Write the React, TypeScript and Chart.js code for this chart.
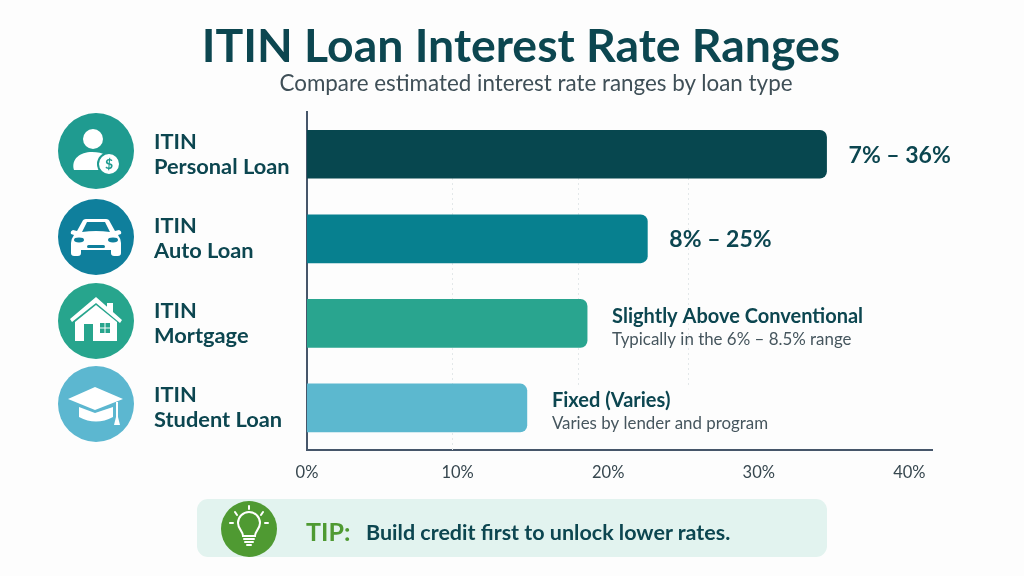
import React, { useEffect, useRef } from "react";
import { Chart, registerables } from "chart.js";

Chart.register(...registerables);

const FONT = 'Lato, "Noto Sans", sans-serif';
const INK = "#0c4650";
const TITLE = "ITIN Loan Interest Rate Ranges";
const SUBTITLE = "Compare estimated interest rate ranges by loan type";
const categories = [
  ["ITIN", "Personal Loan"],
  ["ITIN", "Auto Loan"],
  ["ITIN", "Mortgage"],
  ["ITIN", "Student Loan"],
];
const barValues = [34.5, 22.6, 18.6, 14.6];
const barColors = ["#07474f", "#07808f", "#29a58f", "#5cb8cf"];
const mainLabels = ["7% – 36%", "8% – 25%", "Slightly Above Conventional", "Fixed (Varies)"];
const subLabels = ["", "", "Typically in the 6% – 8.5% range", "Varies by lender and program"];
const gridValues = [9.6, 18, 25.3];
const TIP_LABEL = "TIP:";
const TIP_TEXT = "Build credit first to unlock lower rates.";

const overlay = {
  id: "overlay",
  beforeDatasetsDraw(chart: any) {
    const { ctx, scales, chartArea } = chart;
    ctx.save();
    ctx.strokeStyle = "#e3e8ea";
    ctx.lineWidth = 1;
    ctx.setLineDash([2, 3]);
    gridValues.forEach((v, i) => {
      const x = Math.round(scales.x.getPixelForValue(v)) + 0.5;
      ctx.beginPath();
      ctx.moveTo(x, chartArea.top + 66);
      ctx.lineTo(x, i === 0 ? chartArea.bottom : chartArea.bottom - 65);
      ctx.stroke();
    });
    ctx.restore();
  },
  afterDatasetsDraw(chart: any) {
    const { ctx } = chart;
    const bars = chart.getDatasetMeta(0).data;
    ctx.save();
    ctx.textBaseline = "middle";
    ctx.textAlign = "left";
    bars.forEach((bar: any, i: number) => {
      ctx.fillStyle = INK;
      if (subLabels[i]) {
        const x = bar.x + 25;
        ctx.font = `700 20px ${FONT}`;
        ctx.fillText(mainLabels[i], x, bar.y - 7);
        ctx.font = `400 16.9px ${FONT}`;
        ctx.fillStyle = "#46565e";
        ctx.fillText(subLabels[i], x, bar.y + 16);
      } else {
        ctx.font = `700 23px ${FONT}`;
        ctx.fillText(mainLabels[i], bar.x + 22, bar.y + 1);
      }
    });
    ctx.restore();
  },
};

function Disc({ cy, fill, children }: { cy: number; fill: string; children: React.ReactNode }) {
  return (
    <g transform={`translate(96 ${cy})`}>
      <circle r="38" fill={fill} />
      {children}
    </g>
  );
}

function Icons() {
  return (
    <svg width="1024" height="576" style={{ position: "absolute", left: 0, top: 0 }}>
      <Disc cy={151} fill="#1f9b90">
        <circle cx="-3" cy="-12" r="10" fill="#fff" />
        <path d="M-22 19 C-25 8 -16 1 -4 1 C2 1 6 2 10 4 C2 6 0 13 3 19 Z" fill="#fff" />
        <circle cx="13" cy="13" r="11" fill="#fff" stroke="#1f9b90" strokeWidth="2" />
        <text x="13" y="18" textAnchor="middle" fontSize="14" fontWeight="700" fontFamily={FONT} fill="#1f9b90">$</text>
      </Disc>
      <Disc cy={237} fill="#0f7f9c">
        <path d="M-14 -15 Q-13 -18 -10 -18 L10 -18 Q13 -18 14 -15 L19 -6 L23 -7 Q26 -6 25 -3 L22 -2 Q25 2 25 6 L25 16 Q25 19 22 19 L18 19 Q15 19 15 16 L15 13 L-15 13 L-15 16 Q-15 19 -18 19 L-22 19 Q-25 19 -25 16 L-25 6 Q-25 2 -22 -2 L-25 -3 Q-26 -6 -23 -7 L-19 -6 Z" fill="#fff" />
        <path d="M-14 -5 L-9 -15 L9 -15 L14 -5 Q0 -7 -14 -5 Z" fill="#0f7f9c" />
        <ellipse cx="-17" cy="3" rx="5" ry="2.4" fill="#0f7f9c" />
        <ellipse cx="17" cy="3" rx="5" ry="2.4" fill="#0f7f9c" />
        <rect x="-9" y="8" width="18" height="3" rx="1.5" fill="#0f7f9c" />
      </Disc>
      <Disc cy={321} fill="#27a58d">
        <path d="M-26 -2 L0 -24 L26 -1 L24 2 L0 -18 L-24 1 Z" fill="#fff" />
        <path d="M11 -18 L17 -18 L17 -8 L11 -13 Z" fill="#fff" />
        <path d="M-21 1 L0 -16 L21 1 L21 20 L-21 20 Z" fill="#fff" />
        <rect x="-12" y="3" width="9" height="17" fill="#27a58d" />
        <path d="M4 2 h4.5 v4.5 h-4.5 Z M9.5 2 h4.5 v4.5 h-4.5 Z M4 7.5 h4.5 v4.5 h-4.5 Z M9.5 7.5 h4.5 v4.5 h-4.5 Z" fill="#27a58d" />
      </Disc>
      <Disc cy={404} fill="#5cb7d0">
        <path d="M-17 3 L-1 9 L17 3 L17 13 Q0 22 -17 13 Z" fill="#fff" />
        <path d="M-28 -5 L-1 -17 L27 -5 L-1 6 Z" fill="#fff" />
        <path d="M20 -2 L22 -2 L22 13 L24 21 L18 21 L20 13 Z" fill="#fff" />
      </Disc>
      <circle cx="249" cy="529" r="28" fill="#4f9a32" />
      <g stroke="#fff" fill="none" strokeWidth="2" strokeLinecap="round" transform="translate(249 527)">
        <path d="M-6 9 C-6 4 -11 2 -11 -4 A11 11 0 0 1 11 -4 C11 2 6 4 6 9 Z" />
        <path d="M-5 12 H5 M-4 15 H4 M-2 18 H2 M0 -21 V-18 M-14 -15 L-12 -12 M14 -15 L12 -12 M-19 -4 H-16 M19 -4 H16" />
      </g>
    </svg>
  );
}

export default function App() {
  const ref = useRef<HTMLCanvasElement>(null);
  useEffect(() => {
    const chart = new Chart(ref.current!, {
      type: "bar",
      data: {
        labels: categories,
        datasets: [
          {
            data: barValues,
            backgroundColor: barColors,
            borderRadius: 7,
            barThickness: 48,
          },
        ],
      },
      options: {
        indexAxis: "y",
        animation: false,
        responsive: false,
        layout: { padding: { left: 154, right: 92, top: 112, bottom: 88 } },
        plugins: { legend: { display: false }, tooltip: { enabled: false }, title: { display: false } },
        scales: {
          x: {
            min: 0,
            max: 41.5,
            grid: { display: false },
            border: { color: "#46566a", width: 2 },
            ticks: {
              stepSize: 10,
              includeBounds: false,
              maxRotation: 0,
              padding: 5,
              color: "#37474f",
              font: { family: FONT, size: 16.5 },
              callback: (v: any) => `${v}%`,
            },
          },
          y: {
            grid: { display: false },
            border: { color: "#46566a", width: 2 },
            afterFit: (s: any) => { s.width = 153; },
            ticks: {
              crossAlign: "far",
              padding: 0,
              color: INK,
              font: { family: FONT, size: 21.8, weight: "700", lineHeight: 1.15 },
            },
          },
        },
      },
      plugins: [overlay],
    } as any);
    return () => chart.destroy();
  }, []);

  const text = (s: React.CSSProperties) => ({ position: "absolute", fontFamily: FONT, whiteSpace: "nowrap", ...s } as React.CSSProperties);

  return (
    <div style={{ position: "fixed", left: 0, top: 0, width: 1024, height: 576, background: "#fdfdfd", overflow: "hidden" }}>
      <div style={{ position: "absolute", left: 197, top: 499, width: 630, height: 58, borderRadius: 11, background: "#e2f3ef" }} />
      <canvas ref={ref} width={1024} height={576} style={{ position: "absolute", left: 0, top: 0 }} />
      <Icons />
      <div style={text({ left: 0, width: 1042, top: 12, textAlign: "center", fontSize: 46.4, lineHeight: "64px", fontWeight: 700, color: INK })}>{TITLE}</div>
      <div style={text({ left: 0, width: 1072, top: 69, textAlign: "center", fontSize: 22.4, lineHeight: "28px", color: "#3f4f57" })}>{SUBTITLE}</div>
      <div style={text({ left: 306, top: 515, fontSize: 25, lineHeight: "32px", fontWeight: 700, color: "#4f9a32" })}>{TIP_LABEL}</div>
      <div style={text({ left: 366, top: 517, fontSize: 21.5, lineHeight: "30px", fontWeight: 700, color: INK })}>{TIP_TEXT}</div>
    </div>
  );
}
